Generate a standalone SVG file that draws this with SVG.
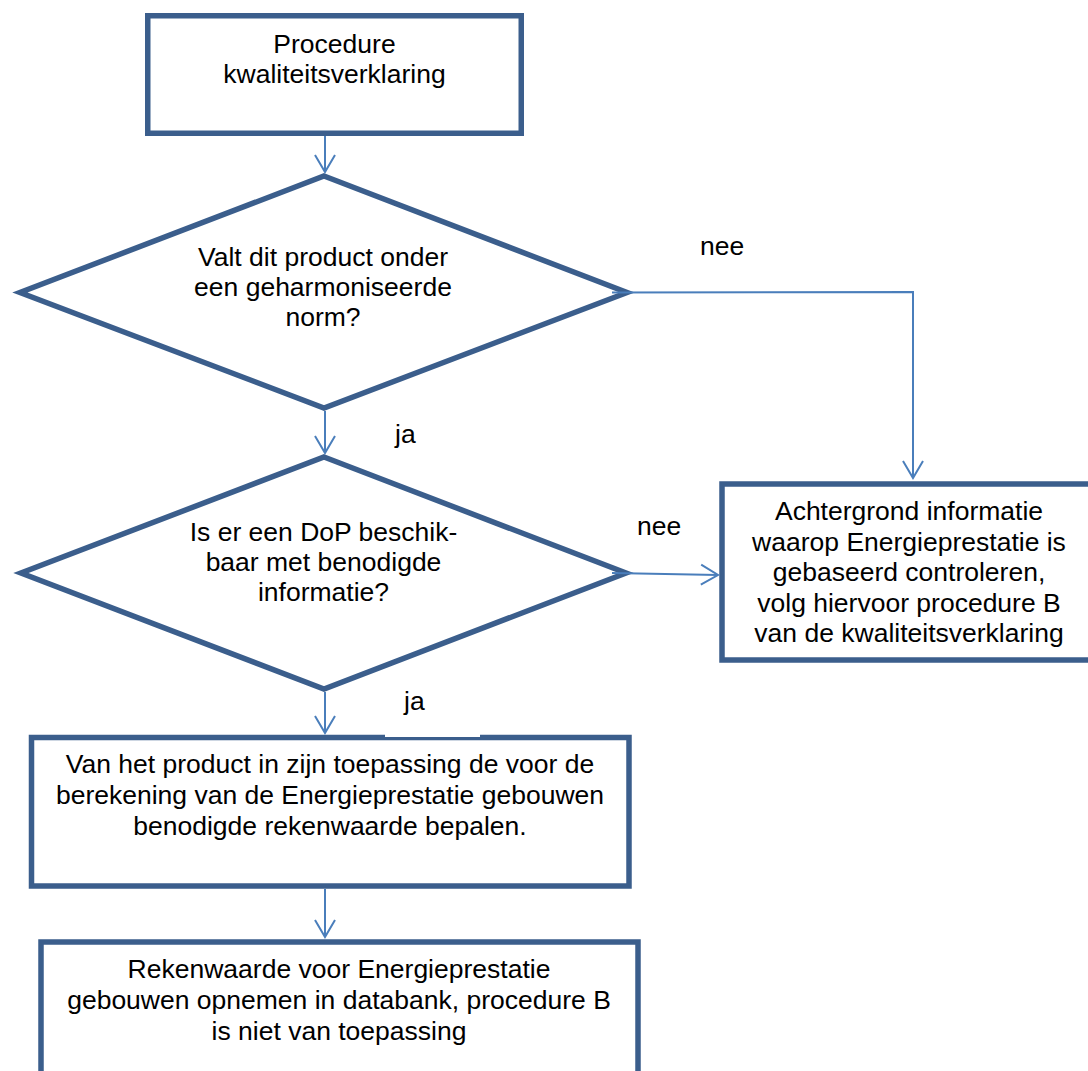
<svg xmlns="http://www.w3.org/2000/svg" width="1088" height="1071" viewBox="0 0 1088 1071">
  <style>
    .shape { fill: #ffffff; stroke: #3B5E8C; stroke-width: 5.5; }
    .conn { fill: none; stroke: #4A7EBB; stroke-width: 2; }
    .txt { font-family: "Liberation Sans", Arial, sans-serif; font-size: 26.5px; fill: #000000; }
    .c { text-anchor: middle; }
  </style>
  <defs>
    <marker id="arr" markerUnits="userSpaceOnUse" markerWidth="24" markerHeight="24" viewBox="-20 -12 24 24" refX="0" refY="0" orient="auto">
      <path d="M -17,-10 L 0,0 L -17,10" fill="none" stroke="#4A7EBB" stroke-width="2"/>
    </marker>
  </defs>
  <rect width="1088" height="1071" fill="#ffffff"/>

  <g id="node-start">
    <rect class="shape" x="147.75" y="15.75" width="373.5" height="117.5"/>
    <text class="txt c" x="334.5" y="53">Procedure</text>
    <text class="txt c" x="334.5" y="83">kwaliteitsverklaring</text>
  </g>

  <g id="node-decision1">
    <polygon class="shape" points="324,176 627,292.5 324,408 20,292.5"/>
    <text class="txt c" x="323" y="266">Valt dit product onder</text>
    <text class="txt c" x="323" y="296">een geharmoniseerde</text>
    <text class="txt c" x="323" y="326">norm?</text>
  </g>

  <g id="node-decision2">
    <polygon class="shape" points="324,457 626,573 324,689 21,573"/>
    <text class="txt c" x="323.5" y="541">Is er een DoP beschik-</text>
    <text class="txt c" x="323.5" y="571">baar met benodigde</text>
    <text class="txt c" x="323.5" y="601">informatie?</text>
  </g>

  <g id="node-background">
    <rect class="shape" x="722" y="484" width="375" height="176"/>
    <text class="txt c" x="909" y="520">Achtergrond informatie</text>
    <text class="txt c" x="909" y="550.5">waarop Energieprestatie is</text>
    <text class="txt c" x="909" y="581">gebaseerd controleren,</text>
    <text class="txt c" x="909" y="611.5">volg hiervoor procedure B</text>
    <text class="txt c" x="909" y="642">van de kwaliteitsverklaring</text>
  </g>

  <g id="node-determine">
    <rect class="shape" x="31.5" y="737.5" width="597.5" height="148.5"/>
    <text class="txt c" x="330" y="773">Van het product in zijn toepassing de voor de</text>
    <text class="txt c" x="330" y="804">berekening van de Energieprestatie gebouwen</text>
    <text class="txt c" x="330" y="835">benodigde rekenwaarde bepalen.</text>
  </g>

  <g id="node-database">
    <rect class="shape" x="41" y="942" width="597" height="200"/>
    <text class="txt c" x="339" y="978">Rekenwaarde voor Energieprestatie</text>
    <text class="txt c" x="339" y="1009">gebouwen opnemen in databank, procedure B</text>
    <text class="txt c" x="339" y="1040">is niet van toepassing</text>
  </g>

  <g id="connectors">
    <path class="conn" d="M 325,136 L 325,172" marker-end="url(#arr)"/>
    <path class="conn" d="M 325,411 L 325,453" marker-end="url(#arr)"/>
    <path class="conn" d="M 612,292.5 L 913,292 L 913,478" marker-end="url(#arr)"/>
    <path class="conn" d="M 612,573 L 718,575" marker-end="url(#arr)"/>
    <path class="conn" d="M 325,692 L 325,733" marker-end="url(#arr)"/>
    <path class="conn" d="M 325,889 L 325,937" marker-end="url(#arr)"/>
  </g>

  <g id="labels">
    <text class="txt" x="700" y="255">nee</text>
    <text class="txt" x="395" y="443">ja</text>
    <text class="txt" x="637" y="535">nee</text>
    <rect x="385" y="700" width="95" height="37" fill="#ffffff"/>
    <text class="txt" x="404" y="710">ja</text>
  </g>
</svg>
